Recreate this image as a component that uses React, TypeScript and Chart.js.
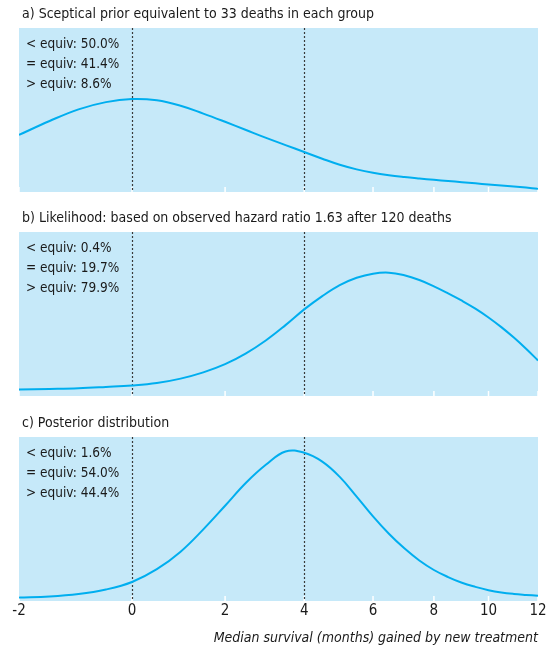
import React, { useEffect, useRef } from "react";
import { Chart, registerables } from "chart.js";

Chart.register(...registerables);

// Axis: median survival gained (months), drawn on a log(months + SHIFT) scale
const SHIFT = 10.4;
const toAxis = (m: number) => Math.log(m + SHIFT);

const tickMonths = [-2, 0, 2, 4, 6, 8, 10, 12];
const equivBounds = [0, 4];
const axisTitle = "Median survival (months) gained by new treatment";

const months = [
  -2, -1.5, -1, -0.5, 0, 0.5, 1, 1.5, 2, 2.5, 3, 3.5, 4, 4.5, 5, 5.5, 6, 6.5, 7,
  7.5, 8, 8.5, 9, 9.5, 10, 10.5, 11, 11.5, 12,
];

const priorDensity = [
  34.8, 43.3, 50.4, 54.8, 56.7, 55.9, 52.6, 47.8, 42.8, 37.8, 33.0, 28.6, 24.4,
  20.3, 16.6, 13.8, 11.7, 10.2, 9.1, 8.2, 7.4, 6.7, 6.0, 5.3, 4.6, 4.0, 3.4, 2.7,
  2.0,
];
const likelihoodDensity = [
  4.0, 4.3, 4.7, 5.5, 6.4, 7.9, 10.6, 14.4, 19.4, 26.0, 34.0, 43.2, 52.8, 60.9,
  67.6, 72.1, 74.6, 75.2, 73.6, 70.7, 66.9, 62.6, 58.1, 53.3, 47.9, 42.0, 35.6,
  28.8, 21.7,
];
const posteriorDensity = [
  2.1, 2.7, 4.2, 7.0, 11.6, 19.4, 30.1, 43.7, 58.1, 72.1, 83.2, 91.2, 90.4, 85.0,
  75.7, 63.7, 51.6, 41.0, 32.1, 24.7, 18.9, 14.6, 11.1, 8.6, 6.6, 5.2, 4.3, 3.7,
  3.2,
];

const panelTitles = [
  "a) Sceptical prior equivalent to 33 deaths in each group",
  "b) Likelihood: based on observed hazard ratio 1.63 after 120 deaths",
  "c) Posterior distribution",
];
const belowEquiv = ["50.0%", "0.4%", "1.6%"];
const withinEquiv = ["41.4%", "19.7%", "54.0%"];
const aboveEquiv = ["8.6%", "79.9%", "44.4%"];

const seriesList = [priorDensity, likelihoodDensity, posteriorDensity];

const FONT = "'Liberation Sans Narrow', 'Arial Narrow', 'DejaVu Sans Condensed', sans-serif";
const BG = "#c6e9f9";
const CURVE = "#00aeef";
const TEXT = "#1a1a1a";

type PanelProps = {
  idx: number;
  top: number;
  height: number;
  areaTop: number;
  areaBottom: number;
  showAxis: boolean;
};

function Panel({ idx, top, height, areaTop, areaBottom, showAxis }: PanelProps) {
  const ref = useRef<HTMLCanvasElement>(null);

  useEffect(() => {
    const canvas = ref.current;
    if (!canvas) return;
    const series = seriesList[idx];

    const decor = {
      id: "decor",
      beforeDraw(chart: any) {
        const { ctx, chartArea: a } = chart;
        ctx.save();
        ctx.fillStyle = BG;
        ctx.fillRect(a.left, a.top, a.right - a.left, a.bottom - a.top);
        ctx.restore();
      },
      beforeDatasetsDraw(chart: any) {
        const { ctx, chartArea: a } = chart;
        const x = chart.scales.x;
        ctx.save();
        ctx.strokeStyle = "#ffffff";
        ctx.lineWidth = 1.5;
        tickMonths.forEach((m) => {
          const px = x.getPixelForValue(toAxis(m));
          ctx.beginPath();
          ctx.moveTo(px, a.bottom - 5);
          ctx.lineTo(px, a.bottom);
          ctx.stroke();
        });
        ctx.strokeStyle = "#3a3a3a";
        ctx.lineWidth = 1.2;
        ctx.setLineDash([2, 2]);
        equivBounds.forEach((m) => {
          const px = Math.round(x.getPixelForValue(toAxis(m))) + 0.5;
          ctx.beginPath();
          ctx.moveTo(px, a.top);
          ctx.lineTo(px, a.bottom);
          ctx.stroke();
        });
        ctx.restore();
      },
      afterDraw(chart: any) {
        const { ctx, chartArea: a } = chart;
        ctx.save();
        ctx.fillStyle = TEXT;
        ctx.textBaseline = "middle";
        ctx.textAlign = "left";
        ctx.font = `14px ${FONT}`;
        ctx.fillText(panelTitles[idx], 22, a.top - 13.5);
        ctx.font = `13.5px ${FONT}`;
        const lines = [
          `< equiv: ${belowEquiv[idx]}`,
          `= equiv: ${withinEquiv[idx]}`,
          `> equiv: ${aboveEquiv[idx]}`,
        ];
        lines.forEach((t, k) => ctx.fillText(t, 26, a.top + 16 + 20 * k));
        ctx.restore();
      },
    };

    const chart = new Chart(canvas, {
      type: "line",
      data: {
        datasets: [
          {
            data: months.map((m, i) => ({ x: toAxis(m), y: series[i] })),
            borderColor: CURVE,
            borderWidth: 2,
            pointRadius: 0,
            fill: false,
            tension: 0.4,
          },
        ],
      },
      options: {
        animation: false,
        responsive: false,
        maintainAspectRatio: false,
        layout: {
          padding: {
            left: 19,
            right: 13,
            top: areaTop,
            bottom: showAxis ? 0 : height - areaBottom,
          },
        },
        plugins: {
          legend: { display: false },
          tooltip: { enabled: false },
        },
        scales: {
          x: {
            type: "linear",
            display: showAxis,
            min: toAxis(tickMonths[0]),
            max: toAxis(tickMonths[tickMonths.length - 1]),
            afterBuildTicks: (s: any) => {
              s.ticks = tickMonths.map((m) => ({ value: toAxis(m) }));
            },
            afterFit: (s: any) => {
              if (showAxis) s.height = height - areaBottom;
            },
            grid: { display: false, drawTicks: false },
            border: { display: false },
            ticks: {
              autoSkip: false,
              maxRotation: 0,
              padding: 1,
              color: TEXT,
              font: { family: FONT, size: 15 },
              callback: (_v: any, i: number) => String(tickMonths[i]),
            },
            title: {
              display: true,
              text: axisTitle,
              align: "end",
              color: TEXT,
              font: { family: FONT, size: 14, style: "italic" },
              padding: { top: 0, bottom: 0 },
            },
          },
          y: { min: 0, max: 100, display: false },
        },
      } as any,
      plugins: [decor],
    });

    return () => chart.destroy();
  }, [idx, height, areaTop, areaBottom, showAxis]);

  return (
    <canvas
      ref={ref}
      width={551}
      height={height}
      style={{ position: "absolute", left: 0, top, width: 551, height, display: "block" }}
    />
  );
}

export default function App() {
  return (
    <div style={{ position: "absolute", left: 0, top: 0, width: 551, height: 647, background: "#fff" }}>
      <Panel idx={0} top={0} height={200} areaTop={28} areaBottom={192} showAxis={false} />
      <Panel idx={1} top={200} height={205} areaTop={32} areaBottom={196} showAxis={false} />
      <Panel idx={2} top={405} height={242} areaTop={32} areaBottom={196} showAxis={true} />
    </div>
  );
}
